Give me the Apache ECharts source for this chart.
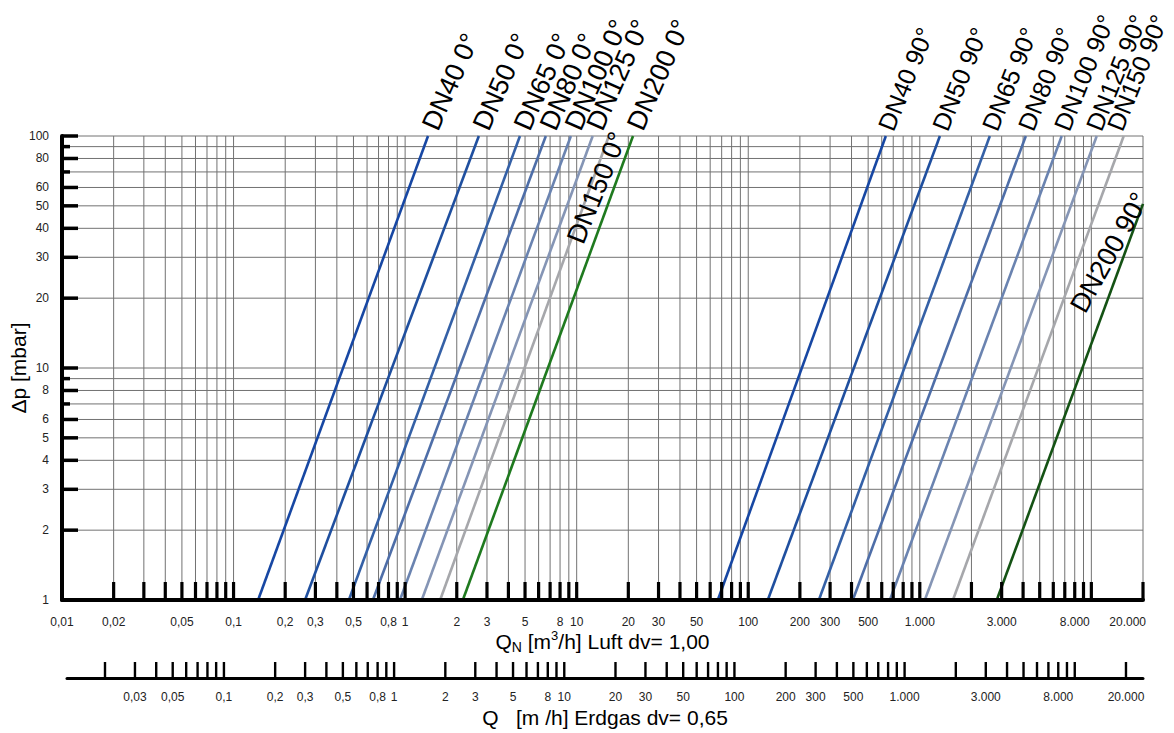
<!DOCTYPE html>
<html>
<head>
<meta charset="utf-8">
<script src="https://cdn.jsdelivr.net/npm/echarts@6/dist/echarts.min.js"></script>
<style>html,body{margin:0;padding:0;background:#fff}#c{width:1174px;height:733px}</style>
</head>
<body>
<div id="c"></div>
<script>
// ---------------- data ----------------
const lineNames = ['DN40 0°','DN50 0°','DN65 0°','DN80 0°','DN100 0°','DN125 0°','DN150 0°','DN200 0°',
                   'DN40 90°','DN50 90°','DN65 90°','DN80 90°','DN100 90°','DN125 90°','DN150 90°','DN200 90°'];
// flow Q_N [m3/h] where each curve starts (at Δp = 1 mbar)
const qStart  = [0.139, 0.261, 0.470, 0.649, 0.933, 1.25, 1.60, 2.17,
                 66.5, 130, 258, 407, 669, 1070, 1560, 2810];
const dpStart = [1,1,1,1,1,1,1,1, 1,1,1,1,1,1,1,1];
// flow Q_N [m3/h] and Δp [mbar] where each curve ends
const qEnd    = [1.36, 2.69, 4.67, 6.61, 9.25, 12.4, 15.4, 21.3,
                 634, 1310, 2560, 4150, 6720, 10750, 15440, 20000];
const dpEnd   = [100,100,100,100,100,100,100,100, 100,100,100,100,100,100,100,51];

// axis tick labels
const luftLabels   = [0.01,0.02,0.05,0.1,0.2,0.3,0.5,0.8,1,2,3,5,8,10,20,30,50,100,200,300,500,1000,3000,8000,20000];
const erdgasLabels = [0.03,0.05,0.1,0.2,0.3,0.5,0.8,1,2,3,5,8,10,20,30,50,100,200,300,500,1000,3000,8000,20000];
const dpLabels     = [1,2,3,4,5,6,8,10,20,30,40,50,60,80,100];
const dpTicksLong  = [2,3,4,5,6,8,10,20,30,40,50,60,80,100];
const dpTicksShort = [7,9,70,90];
const dpGrid       = [2,3,4,5,6,7,8,9,10,20,30,40,50,60,70,80,90,100];

// ---------------- styles ----------------
const FONT = "'Liberation Sans', Arial, sans-serif";
const lineColors = ['#1747a3','#1f4f9f','#3460a6','#4e6ea8','#6a83b0','#8595b5','#a6a7ab','#1f7a1f',
                    '#1747a3','#1f4f9f','#3460a6','#4e6ea8','#6a83b0','#8595b5','#a6a7ab','#145214'];
// label placement: Δp on the curve where the label is anchored, pixel offset, rotation (deg), font size
const labelPlace = lineNames.map((n, i) => i < 8
  ? {dp: dpEnd[i], dx: 14, dy: -2, rot: 66, size: 27}
  : {dp: dpEnd[i], dx: 11, dy: -2, rot: 68, size: 25});
labelPlace[6]  = {dp: 33.2, dx: 19, dy: 0, rot: 68, size: 27};
labelPlace[13] = {dp: 100, dx: 8, dy: -2, rot: 68, size: 25};
labelPlace[14] = {dp: 100, dx: 2, dy: -2, rot: 68, size: 25};
labelPlace[15] = {dp: 16.6, dx: -12, dy: 0, rot: 61, size: 27};

function logSteps(fromExp, toExp) {
  const out = [];
  for (let e = fromExp; e <= toExp; e++) {
    for (let m = 1; m <= 9; m++) out.push(Number((m * Math.pow(10, e)).toPrecision(6)));
  }
  return out;
}
const xGridVals = logSteps(-2, 3).concat([10000, 20000]).filter(v => v > 0.01);
const xTickVals = xGridVals.slice();

function fmt(v) {
  if (v >= 1000) return String(v).replace(/\B(?=(\d{3})+(?!\d))/g, '.');
  return String(v).replace('.', ',');
}

// ---------------- render helpers ----------------
function vGrid(params, api) {
  const v = api.value(0);
  const a = api.coord([v, 1]), b = api.coord([v, 100]);
  return {type: 'line', shape: {x1: a[0], y1: a[1], x2: b[0], y2: b[1]}, style: {stroke: '#727272', lineWidth: 1}};
}
function hGrid(params, api) {
  const v = api.value(1);
  const a = api.coord([0.01, v]), b = api.coord([20000, v]);
  return {type: 'line', shape: {x1: a[0], y1: a[1], x2: b[0], y2: b[1]}, style: {stroke: '#727272', lineWidth: 1}};
}
function xTick(len, w) {
  return function (params, api) {
    const p = api.coord([api.value(0), api.value(1)]);
    return {type: 'rect', shape: {x: p[0] - w / 2, y: p[1] - len, width: w, height: len}, style: {fill: '#000'}};
  };
}
function xLabel(gap, lastRight) {
  return function (params, api) {
    const v = api.value(0);
    const p = api.coord([v, api.value(1)]);
    const isLast = lastRight && params.dataIndex === params.dataInsideLength - 1;
    return {type: 'text', x: isLast ? p[0] + 3 : p[0], y: p[1] + gap,
      style: {text: fmt(v), fill: '#222', fontSize: 12, fontFamily: FONT,
              align: isLast ? 'right' : 'center', verticalAlign: 'top'}};
  };
}
function yTick(len) {
  return function (params, api) {
    const p = api.coord([0.01, api.value(1)]);
    return {type: 'rect', shape: {x: p[0], y: p[1] - 1.75, width: len, height: 3.5}, style: {fill: '#000'}};
  };
}
function yLabel(params, api) {
  const v = api.value(1);
  const p = api.coord([0.01, v]);
  return {type: 'text', x: p[0] - 13, y: p[1],
    style: {text: String(v), fill: '#222', fontSize: 12, fontFamily: FONT, align: 'right', verticalAlign: 'middle'}};
}
function curveLabel(params, api) {
  const i = params.dataIndex;
  const pl = labelPlace[i];
  const L = Math.log10;
  const t = (L(pl.dp) - L(dpStart[i])) / (L(dpEnd[i]) - L(dpStart[i]));
  const q = Math.pow(10, L(qStart[i]) + t * (L(qEnd[i]) - L(qStart[i])));
  const p = api.coord([q, pl.dp]);
  return {type: 'text', x: p[0] + pl.dx, y: p[1] + pl.dy, rotation: pl.rot * Math.PI / 180,
    style: {text: lineNames[i], fill: '#000', fontSize: pl.size, fontFamily: FONT, align: 'left', verticalAlign: 'bottom'}};
}

// ---------------- option ----------------
const series = [];
series.push({type: 'custom', name: 'vgrid', silent: true, z: 1, xAxisIndex: 0, yAxisIndex: 0,
  data: xGridVals.map(v => [v, 1]), renderItem: vGrid});
series.push({type: 'custom', name: 'hgrid', silent: true, z: 1, xAxisIndex: 0, yAxisIndex: 0,
  data: dpGrid.map(v => [0.01, v]), renderItem: hGrid});
lineNames.forEach((n, i) => {
  series.push({type: 'line', name: n, xAxisIndex: 0, yAxisIndex: 0, z: 3, showSymbol: false, symbol: 'none',
    silent: true, clip: true,
    lineStyle: {color: lineColors[i], width: 2.6},
    data: [[qStart[i], dpStart[i]], [qEnd[i], dpEnd[i]]]});
});
series.push({type: 'custom', name: 'xticks', silent: true, z: 5, xAxisIndex: 0, yAxisIndex: 0,
  data: xTickVals.map(v => [v, 1]), renderItem: xTick(18, 3.2)});
series.push({type: 'custom', name: 'xlabels', silent: true, z: 5, xAxisIndex: 0, yAxisIndex: 0,
  data: luftLabels.map(v => [v, 1]), renderItem: xLabel(16, true)});
series.push({type: 'custom', name: 'yticksL', silent: true, z: 5, xAxisIndex: 0, yAxisIndex: 0,
  data: dpTicksLong.map(v => [0.01, v]), renderItem: yTick(16)});
series.push({type: 'custom', name: 'yticksS', silent: true, z: 5, xAxisIndex: 0, yAxisIndex: 0,
  data: dpTicksShort.map(v => [0.01, v]), renderItem: yTick(8)});
series.push({type: 'custom', name: 'ylabels', silent: true, z: 5, xAxisIndex: 0, yAxisIndex: 0,
  data: dpLabels.map(v => [0.01, v]), renderItem: yLabel});
series.push({type: 'custom', name: 'curveLabels', silent: true, z: 6, xAxisIndex: 0, yAxisIndex: 0,
  data: lineNames.map((n, i) => [qEnd[i], dpEnd[i]]), renderItem: curveLabel});
// Erdgas scale
series.push({type: 'custom', name: 'gticks', silent: true, z: 5, xAxisIndex: 1, yAxisIndex: 1,
  data: xTickVals.map(v => [v, 0]), renderItem: xTick(16, 2.4)});
series.push({type: 'custom', name: 'glabels', silent: true, z: 5, xAxisIndex: 1, yAxisIndex: 1,
  data: erdgasLabels.map(v => [v, 0]), renderItem: xLabel(13, false)});

const option = {
  animation: false,
  backgroundColor: '#fff',
  textStyle: {fontFamily: FONT},
  grid: [
    {left: 62, right: 31, top: 136, bottom: 133},
    {left: 67, right: 31, top: 660, height: 18}
  ],
  xAxis: [
    {type: 'log', gridIndex: 0, logBase: 10, min: 0.01, max: 20000, z: 10,
      axisLine: {show: true, lineStyle: {color: '#000', width: 4}},
      axisTick: {show: false}, axisLabel: {show: false}, splitLine: {show: false},
      name: '{a|Q}{s|N}{a| [m}{p|3}{a|/h] Luft dv= 1,00}',
      nameLocation: 'middle', nameGap: 29,
      nameTextStyle: {rich: {
        a: {fontSize: 21, color: '#000', fontFamily: FONT, lineHeight: 25},
        s: {fontSize: 14, color: '#000', fontFamily: FONT, verticalAlign: 'bottom', lineHeight: 25},
        p: {fontSize: 13, color: '#000', fontFamily: FONT, verticalAlign: 'top', lineHeight: 25}
      }}},
    {type: 'log', gridIndex: 1, logBase: 10, min: 0.01196, max: 25180, z: 10,
      axisLine: {show: true, onZero: false, lineStyle: {color: '#000', width: 3}},
      axisTick: {show: false}, axisLabel: {show: false}, splitLine: {show: false},
      name: 'Q   [m /h] Erdgas dv= 0,65', nameLocation: 'middle', nameGap: 29,
      nameTextStyle: {fontSize: 21, color: '#000', fontFamily: FONT}}
  ],
  yAxis: [
    {type: 'log', gridIndex: 0, logBase: 10, min: 1, max: 100, z: 10,
      axisLine: {show: true, lineStyle: {color: '#000', width: 4}},
      axisTick: {show: false}, axisLabel: {show: false}, splitLine: {show: false},
      name: 'Δp [mbar]', nameLocation: 'middle', nameGap: 33, nameRotate: 90,
      nameTextStyle: {fontSize: 21, color: '#000', fontFamily: FONT}},
    {type: 'value', gridIndex: 1, min: 0, max: 1, show: false}
  ],
  series: series
};

const chart = echarts.init(document.getElementById('c'), null, {renderer: 'svg'});
chart.setOption(option);
</script>
</body>
</html>
